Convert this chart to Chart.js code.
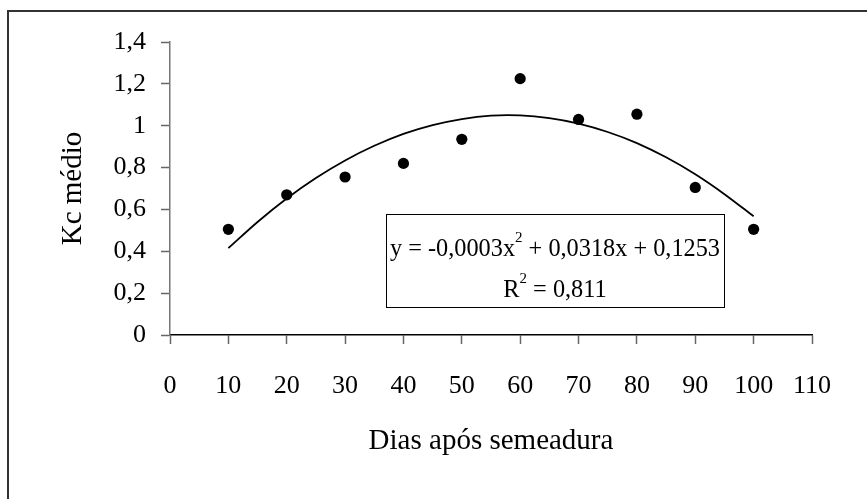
<!DOCTYPE html>
<html lang="pt">
<head>
<meta charset="utf-8">
<title>Kc médio x Dias após semeadura</title>
<script src="https://cdn.jsdelivr.net/npm/chart.js@4/dist/chart.umd.min.js"></script>
<style>
  html, body { margin: 0; padding: 0; background: #fff; }
  #wrap { width: 867px; height: 499px; }
</style>
</head>
<body>
<div id="wrap"><canvas id="c" width="867" height="499"></canvas></div>
<script>
// Observed mean crop coefficient (Kc) by days after sowing
const days = [10, 20, 30, 40, 50, 60, 70, 80, 90, 100];
const kcMedio = [0.505, 0.67, 0.755, 0.82, 0.935, 1.225, 1.03, 1.055, 0.705, 0.505];

// Second-order polynomial trend line, sampled every 5 days
const trendDays = [10, 15, 20, 25, 30, 35, 40, 45, 50, 55, 60, 65, 70, 75, 80, 85, 90, 95, 100];
const trendKc = [0.415, 0.54, 0.652, 0.75, 0.834, 0.904, 0.961, 1.003, 1.032, 1.048, 1.049, 1.036, 1.01, 0.97, 0.917, 0.849, 0.768, 0.673, 0.567];

// Axis ranges and labels
const xTicks = [0, 10, 20, 30, 40, 50, 60, 70, 80, 90, 100, 110];
const yTicks = [0, 0.2, 0.4, 0.6, 0.8, 1, 1.2, 1.4];
const xTitle = 'Dias após semeadura';
const yTitle = 'Kc médio';
const equationText = ['y = -0,0003x', '2', ' + 0,0318x + 0,1253'];
const r2Text = ['R', '2', ' = 0,811'];

const SERIF = '"Liberation Serif", "Times New Roman", serif';

const fmtComma = v => String(Math.round(v * 10) / 10).replace('.', ',');

// White page with the outer frame (left and top edges visible)
const framePlugin = {
  id: 'frame',
  beforeDraw(chart) {
    const ctx = chart.ctx;
    ctx.save();
    ctx.fillStyle = '#fff';
    ctx.fillRect(0, 0, chart.width, chart.height);
    ctx.strokeStyle = '#333';
    ctx.lineWidth = 2;
    ctx.strokeRect(8, 11, chart.width + 20, chart.height + 20);
    ctx.restore();
  }
};

// Draw a run of text pieces where every second piece is a superscript
function drawRich(ctx, parts, cx, baseline, size) {
  const supSize = Math.round(size * 0.6);
  const fonts = parts.map((_, i) => (i % 2 === 1 ? supSize : size) + 'px ' + SERIF);
  let total = 0;
  const widths = parts.map((p, i) => { ctx.font = fonts[i]; const w = ctx.measureText(p).width; total += w; return w; });
  let x = cx - total / 2;
  parts.forEach((p, i) => {
    ctx.font = fonts[i];
    ctx.fillText(p, x, i % 2 === 1 ? baseline - size * 0.56 : baseline);
    x += widths[i];
  });
}

// Regression equation box
const equationPlugin = {
  id: 'equation',
  afterDraw(chart) {
    const ctx = chart.ctx;
    const a = chart.chartArea;
    const left = a.left + 216, top = a.top + 172, w = 338, h = 93;
    ctx.save();
    ctx.fillStyle = '#fff';
    ctx.fillRect(left, top, w, h);
    ctx.strokeStyle = '#000';
    ctx.lineWidth = 1;
    ctx.strokeRect(left + 0.5, top + 0.5, w, h);
    ctx.fillStyle = '#000';
    ctx.textBaseline = 'alphabetic';
    ctx.textAlign = 'left';
    drawRich(ctx, equationText, left + w / 2, top + 42, 24.3);
    drawRich(ctx, r2Text, left + w / 2, top + 83, 24.3);
    ctx.restore();
  }
};

new Chart(document.getElementById('c'), {
  type: 'scatter',
  data: {
    datasets: [
      {
        label: 'Kc médio',
        data: days.map((d, i) => ({ x: d, y: kcMedio[i] })),
        pointRadius: 5.6,
        pointBackgroundColor: '#000',
        pointBorderWidth: 0,
        showLine: false,
        order: 1
      },
      {
        label: 'Tendência',
        data: trendDays.map((d, i) => ({ x: d, y: trendKc[i] })),
        showLine: true,
        borderColor: '#000',
        borderWidth: 1.8,
        pointRadius: 0,
        tension: 0.3,
        fill: false,
        order: 2
      }
    ]
  },
  options: {
    responsive: false,
    devicePixelRatio: 1,
    animation: false,
    layout: { padding: { left: 0, top: 42, right: 55, bottom: 0 }, autoPadding: false },
    plugins: { legend: { display: false }, tooltip: { enabled: false } },
    scales: {
      x: {
        type: 'linear',
        min: xTicks[0],
        max: xTicks[xTicks.length - 1],
        afterBuildTicks(s) { s.ticks = xTicks.map(v => ({ value: v })); },
        afterFit(s) { s.height = 164; },
        border: { display: true, color: '#000', width: 1.5 },
        grid: { drawOnChartArea: false, drawTicks: true, tickLength: 9, tickColor: '#666', tickWidth: 1.5 },
        ticks: { color: '#000', padding: 27, maxRotation: 0, autoSkip: false, font: { family: SERIF, size: 26 } },
        title: { display: true, text: xTitle, color: '#000', font: { family: SERIF, size: 29 }, padding: { top: 0, bottom: 40 } }
      },
      y: {
        type: 'linear',
        min: yTicks[0],
        max: yTicks[yTicks.length - 1],
        afterBuildTicks(s) { s.ticks = yTicks.map(v => ({ value: v })); },
        afterFit(s) { s.width = 170; },
        border: { display: true, color: '#777', width: 1.5 },
        grid: { drawOnChartArea: false, drawTicks: true, tickLength: 9, tickColor: '#666', tickWidth: 1.5 },
        ticks: { color: '#000', padding: 15, autoSkip: false, font: { family: SERIF, size: 26 }, callback: v => fmtComma(v) },
        title: { display: true, text: yTitle, color: '#000', font: { family: SERIF, size: 29 }, padding: { top: 56, bottom: 0 } }
      }
    }
  },
  plugins: [framePlugin, equationPlugin]
});
</script>
</body>
</html>
